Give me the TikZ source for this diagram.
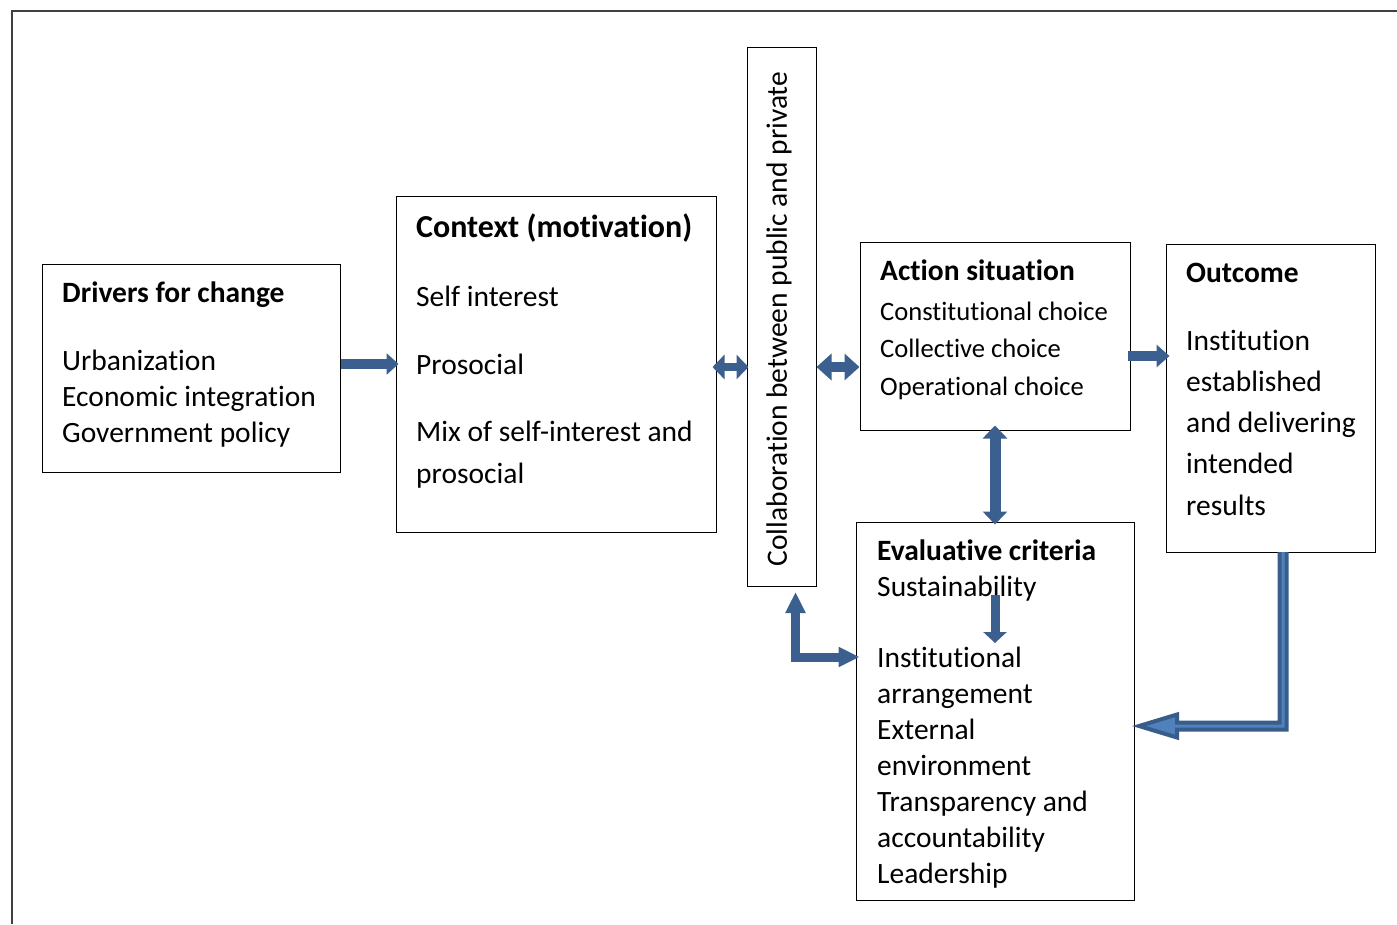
\documentclass[tikz,border=0pt]{standalone}
\usepackage{fontspec}
\setmainfont[Ligatures={NoCommon}]{Carlito}
\usetikzlibrary{arrows.meta,calc}
\definecolor{arr}{HTML}{3B5F8E}
\definecolor{arrdark}{HTML}{385D8A}
\definecolor{arrlight}{HTML}{4F81BD}
\definecolor{frame}{HTML}{404040}
\begin{document}
\begin{tikzpicture}[x=1pt,y=-1pt,
  box/.style={draw=black, line width=1pt, inner sep=0pt, fill=white},
  txt/.style={anchor=base west, inner sep=0pt, font=\fontsize{29.5}{35}\selectfont},
  ttl/.style={anchor=base west, inner sep=0pt, font=\fontsize{29.5}{35}\selectfont\bfseries},
  stxt/.style={anchor=base west, inner sep=0pt, font=\fontsize{26.6}{32}\selectfont},
  blk/.style={draw=arr, line join=miter},
]
\useasboundingbox (0,0) rectangle (1397,924);
% outer frame (only top and left visible)
\draw[frame, line width=1.5pt] (12,924) -- (12,11) -- (1397,11);

% boxes
\node[box, minimum width=298pt, minimum height=208pt] (drv) at (191,368) {};
\node[box, minimum width=320pt, minimum height=336pt] (ctx) at (556,364) {};
\node[box, minimum width=69pt, minimum height=539pt] (col) at (781.5,316.5) {};
\node[box, minimum width=270pt, minimum height=188pt] (act) at (995,336) {};
\node[box, minimum width=209pt, minimum height=308pt] (out) at (1270.5,398) {};
\node[box, minimum width=278pt, minimum height=378pt] (eva) at (995,711) {};

% texts: drivers
\node[ttl] (drvT) at (62,302) {Drivers for change};
\node[txt] (drv1) at (62,370) {Urbanization};
\node[txt] (drv2) at (62,406) {Economic integration};
\node[txt] (drv3) at (62,442) {Government policy};

% context
\node[anchor=base west, inner sep=0pt, font=\fontsize{32}{38}\selectfont\bfseries] (ctxT) at (416,237) {Context (motivation)};
\node[txt] (ctx1) at (416,306) {Self interest};
\node[txt] (ctx2) at (416,374) {Prosocial};
\node[txt] (ctx3) at (416,441) {Mix of self-interest and};
\node[txt] (ctx4) at (416,483) {prosocial};

% collaboration
\node[rotate=90, inner sep=0pt, font=\fontsize{29.5}{35}\selectfont] (colT) at (779,319) {Collaboration between public and private};

% action situation
\node[ttl] (actT) at (880,280) {Action situation};
\node[stxt] (act1) at (880,320) {Constitutional choice};
\node[stxt] (act2) at (880,357) {Collective choice};
\node[stxt] (act3) at (880,395) {Operational choice};

% outcome
\node[ttl] (outT) at (1186,282) {Outcome};
\node[txt] (out1) at (1186,350) {Institution};
\node[txt] (out2) at (1186,391) {established};
\node[txt] (out3) at (1186,432) {and delivering};
\node[txt] (out4) at (1186,473) {intended};
\node[txt] (out5) at (1186,515) {results};

% evaluative criteria
\node[ttl] (evaT) at (877,560) {Evaluative criteria};
\node[txt] (eva1) at (877,596) {Sustainability};
\node[txt] (eva2) at (877,667) {Institutional};
\node[txt] (eva3) at (877,703) {arrangement};
\node[txt] (eva4) at (877,739) {External};
\node[txt] (eva5) at (877,775) {environment};
\node[txt] (eva6) at (877,811) {Transparency and};
\node[txt] (eva7) at (877,847) {accountability};
\node[txt] (eva8) at (877,883) {Leadership};

% arrows
\draw[blk, line width=10pt, -{Triangle[length=12pt,width=21pt]}, shorten >=-3pt]
  (drv.east |- 0,364) -- (ctx.west |- 0,364);
\draw[blk, line width=8pt, {Triangle[length=12pt,width=24pt]}-{Triangle[length=12pt,width=24pt]},
  shorten <=-4pt, shorten >=-2pt]
  (ctx.east |- 0,367) -- (col.west |- 0,367);
\draw[blk, line width=10pt, {Triangle[length=15pt,width=26pt]}-{Triangle[length=15pt,width=26pt]}]
  (col.east |- 0,367) -- (act.west |- 0,367);
\draw[blk, line width=10pt, -{Triangle[length=13pt,width=22pt]}, shorten <=-3pt, shorten >=-4pt]
  (act.east |- 0,356) -- (out.west |- 0,356);
\draw[blk, line width=11pt, {Triangle[length=13pt,width=24pt]}-{Triangle[length=13pt,width=24pt]},
  shorten <=-5pt, shorten >=-3pt]
  (act.south) -- (eva.north);
\coordinate (s1) at (995,595);
\coordinate (s2) at (995,643);
\draw[blk, line width=9pt, -{Triangle[length=11pt,width=23pt]}] (s1) -- (s2);
\coordinate (c1) at (795.5,592);
\draw[blk, line width=9pt, {Triangle[length=21pt,width=19pt]}-{Triangle[length=21pt,width=19pt]}, shorten >=-4pt]
  (c1) |- (eva.west |- 0,657);

% outcome -> evaluative (outlined arrow)
\coordinate (o1) at (1283,552);
\coordinate (o2) at (1283,726);
\coordinate (oTip) at (1139,726);
\filldraw[fill=arrlight, draw=arrdark, line width=4pt, line join=miter]
  ($(o1)+(-3.5,0)$) -- ($(o2)+(-3.5,-3.5)$) -- ($(oTip)+(38,-3.5)$) -- ($(oTip)+(38,-11.5)$)
  -- (oTip) -- ($(oTip)+(38,11.5)$) -- ($(oTip)+(38,3.5)$) -- ($(o2)+(3.5,3.5)$)
  -- ($(o1)+(3.5,0)$);
\end{tikzpicture}
\end{document}
